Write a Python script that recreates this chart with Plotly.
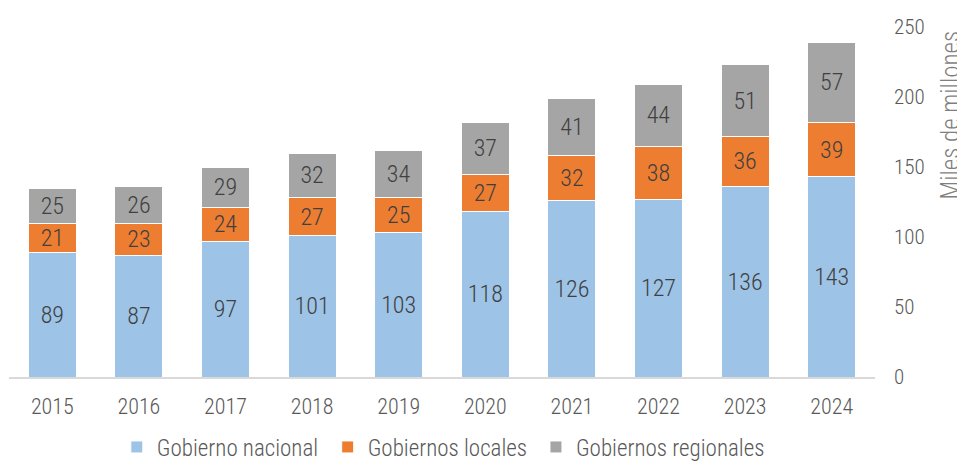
import plotly.graph_objects as go

years = ["2015", "2016", "2017", "2018", "2019", "2020", "2021", "2022", "2023", "2024"]
nacional = [89, 87, 97, 101, 103, 118, 126, 127, 136, 143]
locales = [21, 23, 24, 27, 25, 27, 32, 38, 36, 39]
regionales = [25, 26, 29, 32, 34, 37, 41, 44, 51, 57]

FONT = "Roboto Condensed, Roboto, sans-serif"
TXT = "#595959"

series = [
    ("Gobierno nacional", nacional, "#9DC3E6", "legend", 0.1245),
    ("Gobiernos locales", locales, "#ED7D31", "legend2", 0.368),
    ("Gobiernos regionales", regionales, "#A5A5A5", "legend3", 0.6085),
]

fig = go.Figure()
legends = {}
for name, vals, col, leg, lx in series:
    fig.add_trace(go.Bar(
        x=years, y=vals, name=name, legend=leg,
        marker=dict(color=col, line=dict(color="white", width=1)),
        text=[str(v) for v in vals],
        textposition="inside", insidetextanchor="middle", textangle=0,
        textfont=dict(family=FONT, size=24, color="#404040", weight=300),
        constraintext="none",
    ))
    legends[leg] = dict(orientation="h", x=lx, xanchor="left", xref="paper",
                        y=-0.20, yanchor="middle", itemwidth=30,
                        bgcolor="rgba(0,0,0,0)",
                        font=dict(size=23, color=TXT, weight=300, family=FONT))

fig.update_layout(
    width=965, height=461,
    barmode="stack", bargap=0.446,
    plot_bgcolor="white", paper_bgcolor="white",
    margin=dict(l=1, r=98, t=19, b=92, autoexpand=False),
    font=dict(family=FONT, size=22, color=TXT, weight=300),
    uniformtext=dict(minsize=24, mode="show"),
    showlegend=True,
    xaxis=dict(showline=True, linecolor="#D9D9D9", linewidth=2, automargin=False,
               ticks="outside", ticklen=9, tickcolor="rgba(0,0,0,0)",
               tickfont=dict(size=22, color=TXT, weight=300), showgrid=False),
    yaxis=dict(side="right", range=[0, 250], tickvals=[0, 50, 100, 150, 200, 250],
               showgrid=False, showline=False, zeroline=False, automargin=False,
               ticklabelstandoff=18, tickfont=dict(size=21, color=TXT, weight=300)),
    annotations=[dict(text="Miles de millones", textangle=-90,
                      xref="paper", yref="paper", x=1.087, y=0.748,
                      xanchor="center", yanchor="middle", showarrow=False,
                      font=dict(size=25, color="#7F7F7F", weight=300))],
    **legends,
)

fig.write_html("out.html")
